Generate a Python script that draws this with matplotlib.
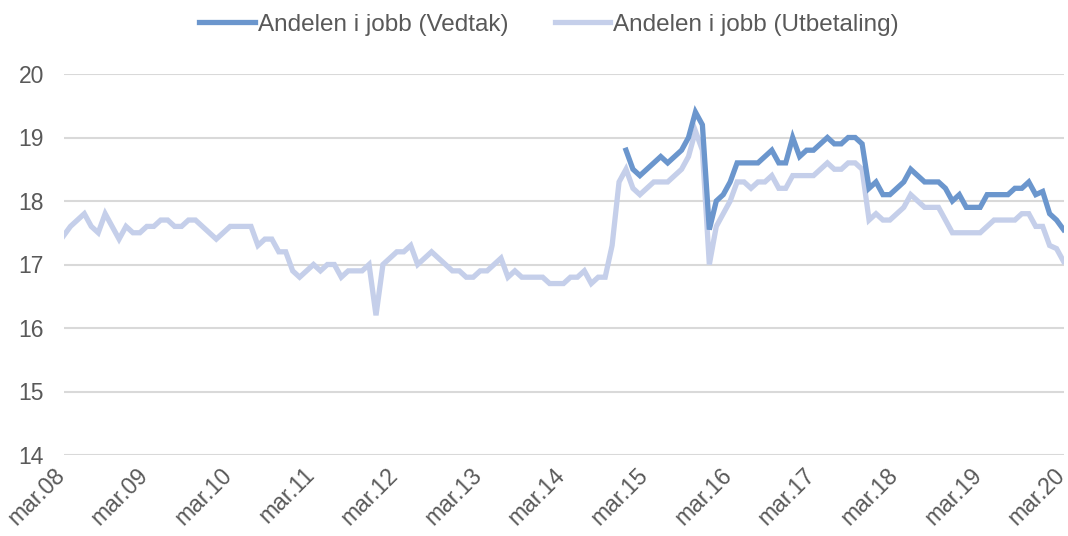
import matplotlib
matplotlib.use("Agg")
import matplotlib.pyplot as plt
import matplotlib.transforms as mtransforms
import numpy as np

plt.rcParams['font.family'] = ['Liberation Sans', 'DejaVu Sans']

# Monthly data, Mar 2008 .. Mar 2020 (145 months)
tick_labels = ["mar.08", "mar.09", "mar.10", "mar.11", "mar.12", "mar.13", "mar.14",
               "mar.15", "mar.16", "mar.17", "mar.18", "mar.19", "mar.20"]

utbetaling = [
    17.45, 17.6, 17.7, 17.8, 17.6, 17.5, 17.8, 17.6, 17.4, 17.6, 17.5, 17.5,
    17.6, 17.6, 17.7, 17.7, 17.6, 17.6, 17.7, 17.7, 17.6, 17.5, 17.4, 17.5,
    17.6, 17.6, 17.6, 17.6, 17.3, 17.4, 17.4, 17.2, 17.2, 16.9, 16.8, 16.9,
    17.0, 16.9, 17.0, 17.0, 16.8, 16.9, 16.9, 16.9, 17.0, 16.2, 17.0, 17.1,
    17.2, 17.2, 17.3, 17.0, 17.1, 17.2, 17.1, 17.0, 16.9, 16.9, 16.8, 16.8,
    16.9, 16.9, 17.0, 17.1, 16.8, 16.9, 16.8, 16.8, 16.8, 16.8, 16.7, 16.7,
    16.7, 16.8, 16.8, 16.9, 16.7, 16.8, 16.8, 17.3, 18.3, 18.5, 18.2, 18.1,
    18.2, 18.3, 18.3, 18.3, 18.4, 18.5, 18.7, 19.1, 18.8, 17.0, 17.6, 17.8,
    18.0, 18.3, 18.3, 18.2, 18.3, 18.3, 18.4, 18.2, 18.2, 18.4, 18.4, 18.4,
    18.4, 18.5, 18.6, 18.5, 18.5, 18.6, 18.6, 18.5, 17.7, 17.8, 17.7, 17.7,
    17.8, 17.9, 18.1, 18.0, 17.9, 17.9, 17.9, 17.7, 17.5, 17.5, 17.5, 17.5,
    17.5, 17.6, 17.7, 17.7, 17.7, 17.7, 17.8, 17.8, 17.6, 17.6, 17.3, 17.25,
    17.05,
]

vedtak_start = 81  # Dec 2014
vedtak = [
    18.8, 18.5, 18.4, 18.5, 18.6, 18.7, 18.6, 18.7, 18.8, 19.0, 19.4, 19.2,
    17.55, 18.0, 18.1, 18.3, 18.6, 18.6, 18.6, 18.6, 18.7, 18.8, 18.6, 18.6,
    19.0, 18.7, 18.8, 18.8, 18.9, 19.0, 18.9, 18.9, 19.0, 19.0, 18.9, 18.2,
    18.3, 18.1, 18.1, 18.2, 18.3, 18.5, 18.4, 18.3, 18.3, 18.3, 18.2, 18.0,
    18.1, 17.9, 17.9, 17.9, 18.1, 18.1, 18.1, 18.1, 18.2, 18.2, 18.3, 18.1,
    18.15, 17.8, 17.7, 17.55,
]

x_u = np.arange(len(utbetaling))
x_v = np.arange(vedtak_start, vedtak_start + len(vedtak))

dark = "#6b96cd"
light = "#c5cfea"
txt = "#595959"

fig = plt.figure(figsize=(10.68, 5.36), dpi=100)
ax = fig.add_axes([63.5 / 1068, 1 - 455 / 536, 1000 / 1068, 381 / 536])

ax.plot(x_v, vedtak, color=dark, lw=3.8, solid_joinstyle='miter', label="Andelen i jobb (Vedtak)", zorder=3)
ax.plot(x_u, utbetaling, color=light, lw=3.8, solid_joinstyle='miter', label="Andelen i jobb (Utbetaling)", zorder=2)

ax.set_xlim(0, 144)
ax.set_ylim(14, 20)
ax.set_yticks(np.arange(14, 21, 1))
ax.set_xticks(np.arange(0, 145, 12))
ax.set_xticklabels(tick_labels, rotation=45, ha='right', va='top')
ax.tick_params(axis='both', length=0, labelsize=16.5, colors=txt)
ax.tick_params(axis='y', pad=14)
ax.tick_params(axis='x', pad=6)
shift = mtransforms.ScaledTranslation(6 / 100, 0, fig.dpi_scale_trans)
for lab in ax.get_xticklabels():
    lab.set_transform(lab.get_transform() + shift)
ax.grid(axis='y', color='#d9d9d9', lw=1.5)
ax.set_axisbelow(True)
for s in ax.spines.values():
    s.set_visible(False)

handles, labels = ax.get_legend_handles_labels()
leg = fig.legend(handles, labels, loc='center', bbox_to_anchor=(549 / 1068, 1 - 25 / 536), ncol=2,
                 frameon=False, fontsize=17.5, handlelength=2.3, handletextpad=0.12,
                 columnspacing=1.9)
for t in leg.get_texts():
    t.set_color(txt)

fig.savefig("out.png", dpi=100)
